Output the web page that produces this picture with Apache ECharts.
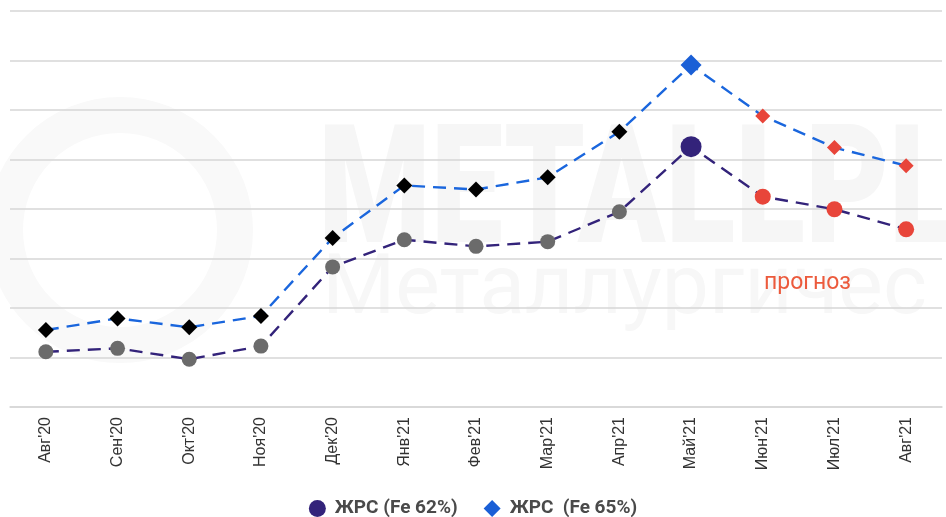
<!DOCTYPE html>
<html><head><meta charset="utf-8">
<script src="https://cdn.jsdelivr.net/npm/echarts@6/dist/echarts.min.js"></script>
<style>html,body{margin:0;padding:0;background:#fff}#c{width:946px;height:517px}</style>
</head><body><div id="c"></div>
<script>
const categories = ["Авг'20","Сен'20","Окт'20","Ноя'20","Дек'20","Янв'21","Фев'21","Мар'21","Апр'21","Май'21","Июн'21","Июл'21","Авг'21"];
const fe62 = [122.3,123.7,119.3,124.6,156.6,167.6,164.9,166.8,178.9,205.2,185.0,179.9,171.8];
const fe65 = [131.1,135.8,132.2,136.8,168.3,189.5,187.9,192.8,211.2,238.2,217.6,204.8,197.5];
const seriesNames = ["ЖРС (Fe 62%)", "ЖРС  (Fe 65%)"];
const peakIndex = 9;
const forecastStart = 10;
const forecastLabel = "прогноз";

const RED = '#e8453a';
function build(vals, histColor, peakColor, baseSize, peakSize, fSize) {
  return vals.map((v, i) => {
    let color = histColor, size = baseSize;
    if (i === peakIndex) { color = peakColor; size = peakSize; }
    else if (i >= forecastStart) { color = RED; size = fSize; }
    return { value: v, symbolSize: size, itemStyle: { color: color } };
  });
}

const chart = echarts.init(document.getElementById('c'), null, {renderer: 'canvas'});
chart.setOption({
  animation: false,
  backgroundColor: '#fff',
  graphic: [
    { type: 'text', left: 318, top: 118, z: 0, silent: true, scaleX: 0.78,
      style: { text: 'METALLPL', fontFamily: 'Roboto', fontWeight: 900, fontSize: 165, fill: '#f6f6f6' } },
    { type: 'text', left: 322, top: 250, z: 0, silent: true,
      style: { text: 'Металлургичес', fontFamily: 'Roboto', fontWeight: 400, fontSize: 84, fill: '#f7f7f7' } },
    { type: 'circle', shape: { cx: 120, cy: 230, r: 115 }, z: 0, silent: true,
      style: { fill: 'none', stroke: '#f9f9f9', lineWidth: 36 } },
    { type: 'text', left: 764, top: 272, z: 10,
      style: { text: forecastLabel, fontFamily: 'Roboto', fontSize: 23, fill: '#ec5a3c' } }
  ],
  grid: { left: 10, right: 4, top: 11, bottom: 110, containLabel: false },
  legend: {
    bottom: -6, left: 'center', itemGap: 26, itemWidth: 17, itemHeight: 17,
    textStyle: { fontFamily: 'Roboto', fontWeight: 'bold', fontSize: 19, color: '#4a4a4a', padding: [0, 0, 0, 4] },
    data: [
      { name: seriesNames[0], icon: 'circle', itemStyle: { color: '#33237a' } },
      { name: seriesNames[1], icon: 'diamond', itemStyle: { color: '#1a5fd6' } }
    ]
  },
  xAxis: {
    type: 'category', data: categories, boundaryGap: true,
    axisLine: { show: true, lineStyle: { color: '#d6d6d6', width: 1.5 } },
    axisTick: { show: false },
    axisLabel: { rotate: 90, margin: 10, fontFamily: 'Liberation Sans', fontSize: 16, color: '#333', interval: 0 }
  },
  yAxis: {
    type: 'value', min: 100, max: 260, interval: 20,
    axisLabel: { show: false }, axisLine: { show: false }, axisTick: { show: false },
    splitLine: { lineStyle: { color: '#d6d6d6', width: 1.5 } }
  },
  series: [
    { name: seriesNames[0], type: 'line', symbol: 'circle', z: 3,
      itemStyle: { color: '#33237a' },
      lineStyle: { color: '#33237a', width: 2.4, type: [13, 8] },
      data: build(fe62, '#6b6b6b', '#33237a', 15, 21, 16) },
    { name: seriesNames[1], type: 'line', symbol: 'diamond', z: 3,
      itemStyle: { color: '#1a5fd6' },
      lineStyle: { color: '#1a66dd', width: 2.4, type: [13, 8] },
      data: build(fe65, '#000000', '#1a5fd6', 16, 21, 15) }
  ]
});
</script></body></html>
